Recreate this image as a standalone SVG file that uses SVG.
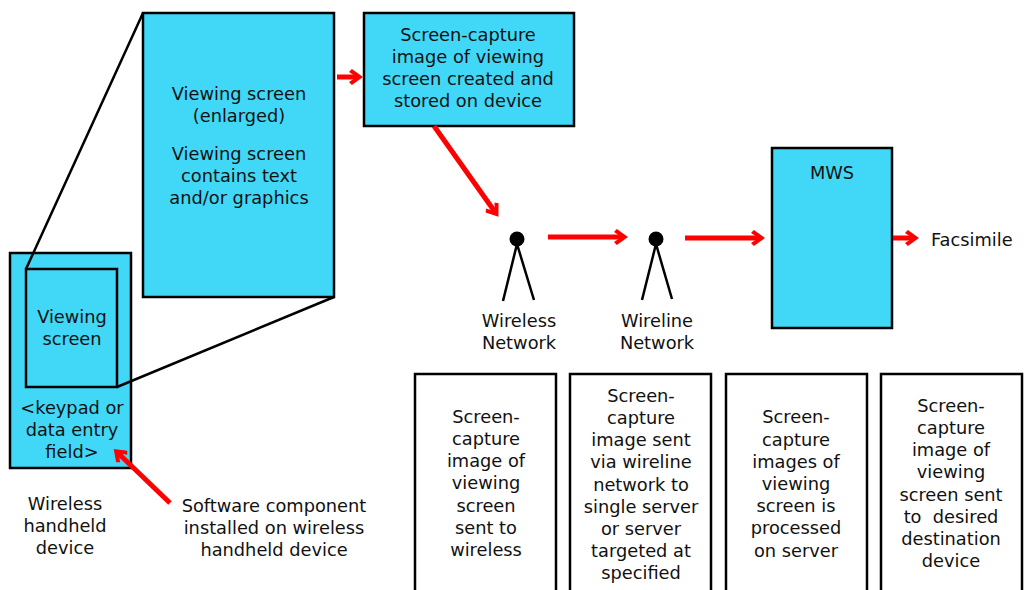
<svg xmlns="http://www.w3.org/2000/svg" width="1025" height="590" viewBox="0 0 1025 590">
  <style>
    .box { fill: #41d8f7; stroke: #000; stroke-width: 2.5; }
    .plain { fill: #fff; stroke: #000; stroke-width: 2.5; }
    .line { stroke: #000; stroke-width: 2.5; fill: none; }
    .flow { stroke: #ff0000; stroke-width: 5; fill: none; marker-end: url(#head); }
    text { font-family: "DejaVu Sans", Verdana, sans-serif; font-size: 17.8px; fill: #111; text-anchor: middle; }
  </style>
  <defs>
    <!-- chevron-style arrowhead for the red flow arrows -->
    <marker id="head" viewBox="0 0 10 10" refX="6.5" refY="5" markerWidth="3.4" markerHeight="3.4" orient="auto">
      <path d="M3.5,0.3 L10,5 L3.5,9.7 L1.8,8 L6.2,5 L1.8,2 z" fill="#ff0000"/>
    </marker>
  </defs>
  <rect width="1025" height="590" fill="#fff"/>

  <!-- handheld device with its screen -->
  <g id="handheld">
    <rect class="box" x="10" y="253" width="121" height="215"/>
    <rect class="box" x="26" y="269" width="91" height="118"/>
    <text x="72" y="323">Viewing</text>
    <text x="72" y="345">screen</text>
    <text x="72" y="414">&lt;keypad or</text>
    <text x="72" y="436">data entry</text>
    <text x="72" y="458">field&gt;</text>
  </g>
  <g id="handheld-label">
    <text x="65" y="510">Wireless</text>
    <text x="65" y="532">handheld</text>
    <text x="65" y="554">device</text>
  </g>
  <g id="software-label">
    <text x="274" y="512">Software component</text>
    <text x="274" y="534">installed on wireless</text>
    <text x="274" y="556">handheld device</text>
  </g>

  <!-- enlarged view of the screen -->
  <g id="enlarged">
    <rect class="box" x="143" y="13" width="191" height="284"/>
    <text x="239" y="100">Viewing screen</text>
    <text x="239" y="122">(enlarged)</text>
    <text x="239" y="160">Viewing screen</text>
    <text x="239" y="182">contains text</text>
    <text x="239" y="204">and/or graphics</text>
  </g>

  <g id="capture">
    <rect class="box" x="364" y="13" width="210" height="113"/>
    <text x="468" y="41">Screen-capture</text>
    <text x="468" y="63">image of viewing</text>
    <text x="468" y="85">screen created and</text>
    <text x="468" y="107">stored on device</text>
  </g>

  <g id="wireless-network">
    <circle cx="517" cy="239" r="7.5" fill="#000"/>
    <path class="line" d="M503,301 L517,244 L534,300"/>
    <text x="519" y="327">Wireless</text>
    <text x="519" y="349">Network</text>
  </g>

  <g id="wireline-network">
    <circle cx="656" cy="239" r="7.5" fill="#000"/>
    <path class="line" d="M642,300 L656,244 L672,299"/>
    <text x="657" y="327">Wireline</text>
    <text x="657" y="349">Network</text>
  </g>

  <g id="mws">
    <rect class="box" x="772" y="148" width="120" height="180"/>
    <text x="832" y="179">MWS</text>
  </g>

  <g id="facsimile">
    <text x="931" y="246" style="text-anchor:start">Facsimile</text>
  </g>

  <g id="step-1">
    <rect class="plain" x="415" y="374" width="141" height="230"/>
    <text x="486" y="423">Screen-</text>
    <text x="486" y="445">capture</text>
    <text x="486" y="467">image of</text>
    <text x="486" y="489">viewing</text>
    <text x="486" y="512">screen</text>
    <text x="486" y="534">sent to</text>
    <text x="486" y="556">wireless</text>
  </g>
  <g id="step-2">
    <rect class="plain" x="570" y="374" width="141" height="230"/>
    <text x="641" y="402">Screen-</text>
    <text x="641" y="424">capture</text>
    <text x="641" y="446">image sent</text>
    <text x="641" y="468">via wireline</text>
    <text x="641" y="491">network to</text>
    <text x="641" y="513">single server</text>
    <text x="641" y="535">or server</text>
    <text x="641" y="557">targeted at</text>
    <text x="641" y="579">specified</text>
  </g>
  <g id="step-3">
    <rect class="plain" x="726" y="374" width="141" height="230"/>
    <text x="796" y="423">Screen-</text>
    <text x="796" y="446">capture</text>
    <text x="796" y="468">images of</text>
    <text x="796" y="490">viewing</text>
    <text x="796" y="512">screen is</text>
    <text x="796" y="534">processed</text>
    <text x="796" y="557">on server</text>
  </g>
  <g id="step-4">
    <rect class="plain" x="881" y="374" width="141" height="230"/>
    <text x="951" y="412">Screen-</text>
    <text x="951" y="434">capture</text>
    <text x="951" y="456">image of</text>
    <text x="951" y="478">viewing</text>
    <text x="951" y="501">screen sent</text>
    <text x="951" y="523" xml:space="preserve">to  desired</text>
    <text x="951" y="545">destination</text>
    <text x="951" y="567">device</text>
  </g>

  <g id="connectors">
    <!-- zoom lines from device screen to enlarged view -->
    <line class="line" x1="26" y1="269" x2="143" y2="13"/>
    <line class="line" x1="117" y1="387" x2="334" y2="297"/>
    <!-- flow arrows -->
    <line class="flow" x1="170" y1="503" x2="118" y2="453"/>
    <line class="flow" x1="337" y1="77" x2="357" y2="77"/>
    <line class="flow" x1="434" y1="126" x2="495" y2="212"/>
    <line class="flow" x1="548" y1="237" x2="622" y2="237"/>
    <line class="flow" x1="685" y1="238" x2="759" y2="238"/>
    <line class="flow" x1="893" y1="238" x2="913" y2="238"/>
  </g>
</svg>
